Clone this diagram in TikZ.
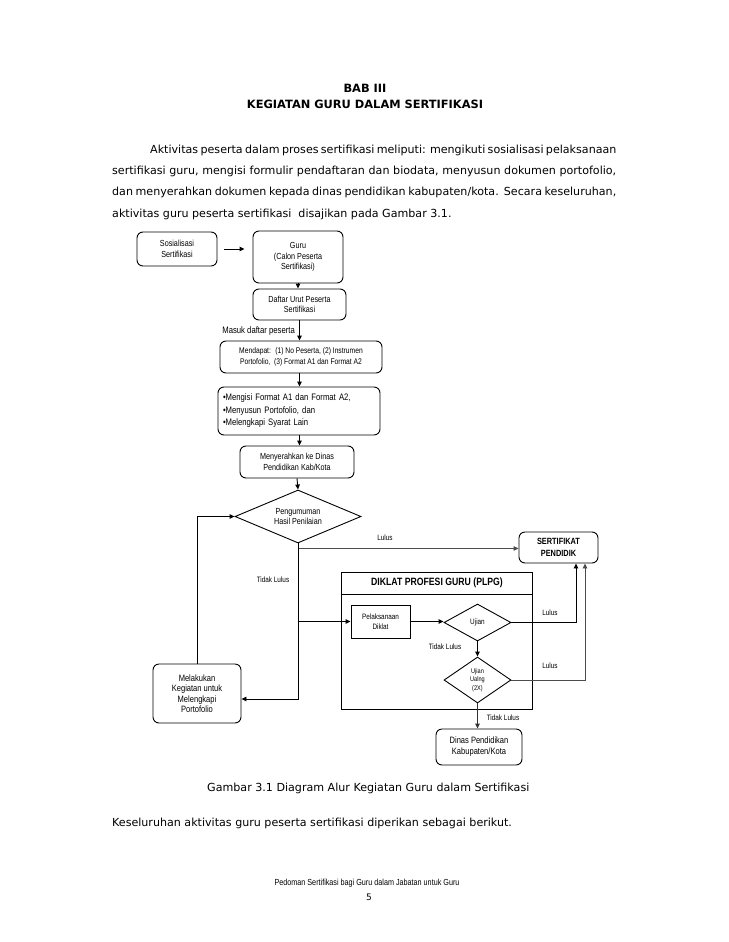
\documentclass[tikz,border=0pt]{standalone}
\usepackage{fontspec}
\setmainfont{DejaVu Sans}
\newfontfamily\narrow[FakeStretch=0.82]{Liberation Sans}
\usetikzlibrary{arrows.meta,shapes.geometric,calc}
\begin{document}
\begin{tikzpicture}[x=1pt,y=-1pt,
  box/.style={draw,line width=0.9pt,align=center,inner sep=0pt,font=\narrow\fontsize{8.8}{10.5}\selectfont},
  rbox/.style={box,rounded corners=6pt},
  dia/.style={draw,diamond,line width=0.9pt,align=center,inner sep=0pt,aspect=2,font=\narrow\fontsize{8.8}{10.5}\selectfont},
  arr/.style={line width=0.9pt,-{Triangle[length=5pt,width=4.5pt]}},
  ln/.style={line width=0.9pt},
  lbl/.style={font=\narrow\fontsize{7.8}{9}\selectfont,inner sep=0pt},
  body/.style={font=\fontsize{11.1}{13}\selectfont,inner sep=0pt,anchor=base west}
]
\useasboundingbox[fill=white] (0,0) rectangle (728,942);

% heading
\node[font=\bfseries\fontsize{11.4}{13}\selectfont,inner sep=0pt] (bab) at (365,88) {BAB III};
\node[font=\bfseries\fontsize{11.4}{13}\selectfont,inner sep=0pt] (judul) at (365,104) {KEGIATAN GURU DALAM SERTIFIKASI};

\node[body] (p1) at (112,153) {\makebox[504pt][s]{\hspace*{38pt}Aktivitas peserta dalam proses sertifikasi meliputi: mengikuti sosialisasi pelaksanaan}};
\node[body] (p2) at (112,174.3) {\makebox[504pt][s]{sertifikasi guru, mengisi formulir pendaftaran dan biodata, menyusun dokumen portofolio,}};
\node[body] (p3) at (112,195.6) {\makebox[504pt][s]{dan menyerahkan dokumen kepada dinas pendidikan kabupaten/kota.\ \ Secara keseluruhan,}};
\node[body] (p4) at (112,217) {aktivitas guru peserta sertifikasi\ \ disajikan pada Gambar 3.1.};

% flowchart
\node[rbox,minimum width=80pt,minimum height=34pt] (sos) at (177,249) {Sosialisasi\\Sertifikasi};
\node[rbox,minimum width=90pt,minimum height=52pt] (guru) at (298,257) {Guru\\(Calon Peserta\\Sertifikasi)};
\node[rbox,minimum width=93pt,minimum height=31pt] (daftar) at (299.5,304.5) {Daftar Urut Peserta\\Sertifikasi};
\node[rbox,minimum width=162pt,minimum height=32pt,font=\narrow\fontsize{8.2}{11}\selectfont] (dapat) at (301,357) {Mendapat:~ (1) No Peserta, (2) Instrumen\\Portofolio,~ (3) Format A1 dan Format A2};
\node[rbox,minimum width=162pt,minimum height=48pt,text width=152pt,align=left,font=\narrow\fontsize{9.4}{12.5}\selectfont] (isi) at (299,411) {\textbullet Mengisi Format A1 dan Format A2,\\\textbullet Menyusun Portofolio, dan\\\textbullet Melengkapi Syarat Lain};
\node[rbox,minimum width=114pt,minimum height=32pt] (serah) at (297,462) {Menyerahkan ke Dinas\\Pendidikan Kab/Kota};
\node[dia,minimum width=126pt,minimum height=53pt,aspect=2.4] (peng) at (298,516.5) {Pengumuman\\Hasil Penilaian};

\node[rbox,minimum width=79pt,minimum height=31pt,font=\narrow\bfseries\fontsize{9}{11.5}\selectfont] (sert) at (558.5,547.5) {SERTIFIKAT\\PENDIDIK};

\node[draw,line width=0.9pt,minimum width=191pt,minimum height=137pt,inner sep=0pt] (diklat) at (436.5,640.5) {};
\draw[ln] (diklat.west |- 0,594) -- (diklat.east |- 0,594);
\node[font=\narrow\bfseries\fontsize{10.6}{12}\selectfont,inner sep=0pt] (dikt) at (437,583) {DIKLAT PROFESI GURU (PLPG)};

\node[box,minimum width=59pt,minimum height=33pt,font=\narrow\fontsize{7.8}{10.5}\selectfont] (pel) at (380.5,621.5) {Pelaksanaan\\Diklat};
\node[dia,minimum width=67pt,minimum height=37pt,font=\narrow\fontsize{7.8}{9}\selectfont] (ujian) at (477.5,622.5) {Ujian};
\node[dia,minimum width=67pt,minimum height=46pt,aspect=1.5,font=\narrow\fontsize{6.8}{8.5}\selectfont] (ulang) at (477.5,680) {Ujian\\Ualng\\(2X)};
\node[rbox,minimum width=86pt,minimum height=36pt,font=\narrow\fontsize{9.2}{11}\selectfont] (dinas) at (479,747) {Dinas Pendidikan\\Kabupaten/Kota};

\node[rbox,minimum width=88pt,minimum height=59pt,font=\narrow\fontsize{9.2}{10.5}\selectfont] (mel) at (197,693.5) {Melakukan\\Kegiatan untuk\\Melengkapi\\Portofolio};

% connectors
\draw[arr,shorten <=7pt,shorten >=8pt] (sos.east) -- (sos.east -| guru.west);
\draw[arr] (guru.south) -- (guru.south |- daftar.north);
\draw[arr] (daftar.south) -- (daftar.south |- dapat.north);
\node[lbl,anchor=east,font=\narrow\fontsize{9.4}{10}\selectfont] (masuk) at (295,331) {Masuk daftar peserta};
\draw[arr] (dapat.south -| daftar.south) -- (daftar.south |- isi.north);
\draw[arr] (isi.south -| daftar.south) -- (daftar.south |- serah.north);
\draw[arr] (serah.south) -- (peng.north);

\coordinate (lj) at ($(peng.south)+(2,5)$);
\draw[arr,draw=black!70] (peng.south |- lj) -- (lj -| sert.west);
\node[lbl] (l1) at (385,538) {Lulus};

\draw[arr] (peng.south) |- ($(mel.east)+(0,5.5)$);
\node[lbl] (tl1) at (273,580) {Tidak Lulus};
\draw[arr] (peng.south |- pel.west) -- (pel.west);
\draw[arr] (mel.north) |- (peng.west);

\draw[arr] (pel.east) -- (pel.east -| ujian.west);
\draw[arr] (ujian.east) -| ($(sert.south)+(17.5,0)$);
\node[lbl] (l2) at (550,613) {Lulus};
\draw[arr] (ujian.south) -- (ulang.north);
\node[lbl] (tl2) at (445,647) {Tidak Lulus};
\draw[arr,draw=black!70] (ulang.east) -| ($(sert.south)+(26.5,0)$);
\node[lbl] (l3) at (550,666) {Lulus};
\draw[arr,draw=black!80] (ulang.south) -- (ulang.south |- dinas.north);
\node[lbl] (tl3) at (503,718) {Tidak Lulus};

% caption and text
\node[font=\fontsize{11.1}{13}\selectfont,inner sep=0pt,anchor=west] (cap) at (207,788) {Gambar 3.1 Diagram Alur Kegiatan Guru dalam Sertifikasi};
\node[font=\fontsize{11.1}{13}\selectfont,inner sep=0pt,anchor=west] (kes) at (112,823) {Keseluruhan aktivitas guru peserta sertifikasi diperikan sebagai berikut.};
\node[font=\narrow\fontsize{8.8}{10}\selectfont,inner sep=0pt] (foot) at (367,883) {Pedoman Sertifikasi bagi Guru dalam Jabatan untuk Guru};
\node[font=\fontsize{9}{10}\selectfont,inner sep=0pt] (page) at (369,897) {5};
\end{tikzpicture}
\end{document}
